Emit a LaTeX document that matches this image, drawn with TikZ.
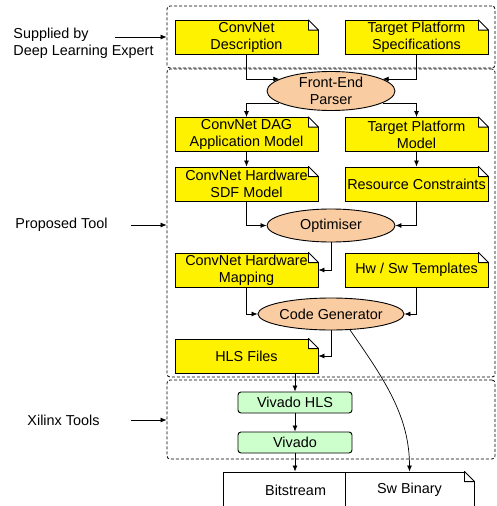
\documentclass[tikz,border=0pt]{standalone}
\usepackage{fontspec}
\setmainfont{Liberation Sans}
\usetikzlibrary{shapes.geometric,arrows.meta}
\definecolor{peach}{RGB}{250,204,162}
\definecolor{mint}{RGB}{204,255,204}
\tikzset{
  note/.style={draw, fill=yellow, minimum width=143pt, minimum height=34pt, inner sep=1pt, align=center},
  task/.style={draw, ellipse, fill=peach, minimum width=128pt, minimum height=33pt, inner sep=0pt, align=center},
  xtool/.style={draw, rounded corners=3pt, fill=mint, minimum width=114pt, minimum height=21pt, inner sep=0pt},
  output/.style={draw, minimum height=36pt, inner sep=0pt},
  frame/.style={draw, dash pattern=on 3pt off 2pt, rounded corners=3pt, line width=0.8pt, inner sep=0pt},
  side/.style={anchor=west, align=left, inner sep=0pt},
  link/.style={-{Latex[length=6pt,width=5pt]}, line width=0.7pt},
}
\begin{document}
\begin{tikzpicture}[x=1pt, y=1pt, line width=0.9pt, font=\fontsize{14.4}{17}\selectfont]
\clip (0,0) rectangle (496,-506);
% dashed frames
\node[frame, minimum width=328pt, minimum height=62pt] (expert) at (331,-37) {};
\node[frame, minimum width=328pt, minimum height=308pt] (tool) at (331,-223) {};
\node[frame, minimum width=328pt, minimum height=79pt] (xilinx) at (331,-419.5) {};
% side labels
\node[side] (who) at (13,-43.5) {Supplied by\\Deep Learning Expert};
\node[side] (prop) at (15,-225) {Proposed Tool};
\node[side] (xtools) at (27,-420) {Xilinx Tools};
\coordinate (w1) at (115,-37);
\coordinate (w2) at (131,-225);
\coordinate (w3) at (131,-420);
\draw[link] (w1) -- (w1 -| expert.west);
\draw[link] (w2) -- (w2 -| tool.west);
\draw[link] (w3) -- (w3 -| xilinx.west);
% inputs
\node[note] (desc) at (246.5,-37.5) {ConvNet\\Description};
\node[note] (spec) at (416.5,-37.5) {Target Platform\\Specifications};
\node[task] (parser) at (331,-91) {Front-End\\Parser};
\node[note] (dag) at (246.5,-134.5) {ConvNet DAG\\Application Model};
\node[note] (tpm) at (416.5,-134.5) {Target Platform\\Model};
\node[note] (sdf) at (246.5,-184) {ConvNet Hardware\\SDF Model};
\node[note] (res) at (416.5,-184) {Resource Constraints};
\node[task] (opt) at (331,-225.5) {Optimiser};
\node[note] (map) at (246.5,-270) {ConvNet Hardware\\Mapping};
\node[note] (tmpl) at (416.5,-270) {Hw / Sw Templates};
\node[task, minimum height=32pt] (codegen) at (331,-314) {Code Generator};
\node[note] (hls) at (246.5,-356) {HLS Files};
% xilinx tools
\node[xtool] (vhls) at (295,-402.5) {Vivado HLS};
\node[xtool] (viv) at (295,-442.5) {Vivado};
% outputs
\node[output, minimum width=122pt, text width=84pt, align=right] (bits) at (284,-490) {Bitstream};
\node[output, minimum width=129pt] (binary) at (409.5,-490) {Sw Binary};
% folded corners
\foreach \n in {desc,spec,dag,tpm,sdf,res,map,tmpl,hls,binary}
{
	\fill[white] ([shift={(-10,1.5)}]\n.north east) rectangle ([shift={(1.5,-10)}]\n.north east);
	\draw[line join=round] ([xshift=-10pt]\n.north east) -- ([yshift=-10pt]\n.north east) -- ([shift={(-10,-10)}]\n.north east) -- cycle;
}
% connectors
\draw[link] (desc.south) |- (parser.167);
\draw[link] (spec.south) |- (parser.13);
\draw[link] (parser.193) -| (dag.north);
\draw[link] (parser.347) -| (tpm.north);
\draw[link] (dag) -- (sdf);
\draw[link] (tpm) -- (res);
\draw[link] (sdf.south) |- (opt);
\draw[link] (res.south) |- (opt);
\draw[link] (opt) |- (map);
\draw[link] (map.south) |- (codegen);
\draw[link] (tmpl.south) |- (codegen);
\draw[link] (codegen) |- (hls);
\draw[link] (vhls |- hls.south) -- (vhls);
\draw[link] (vhls) -- (viv);
\draw[link] (viv) -- (viv |- bits.north);
\draw[link] (codegen.320) .. controls +(35,-50) and +(0,55) .. (binary.north);
\end{tikzpicture}
\end{document}
